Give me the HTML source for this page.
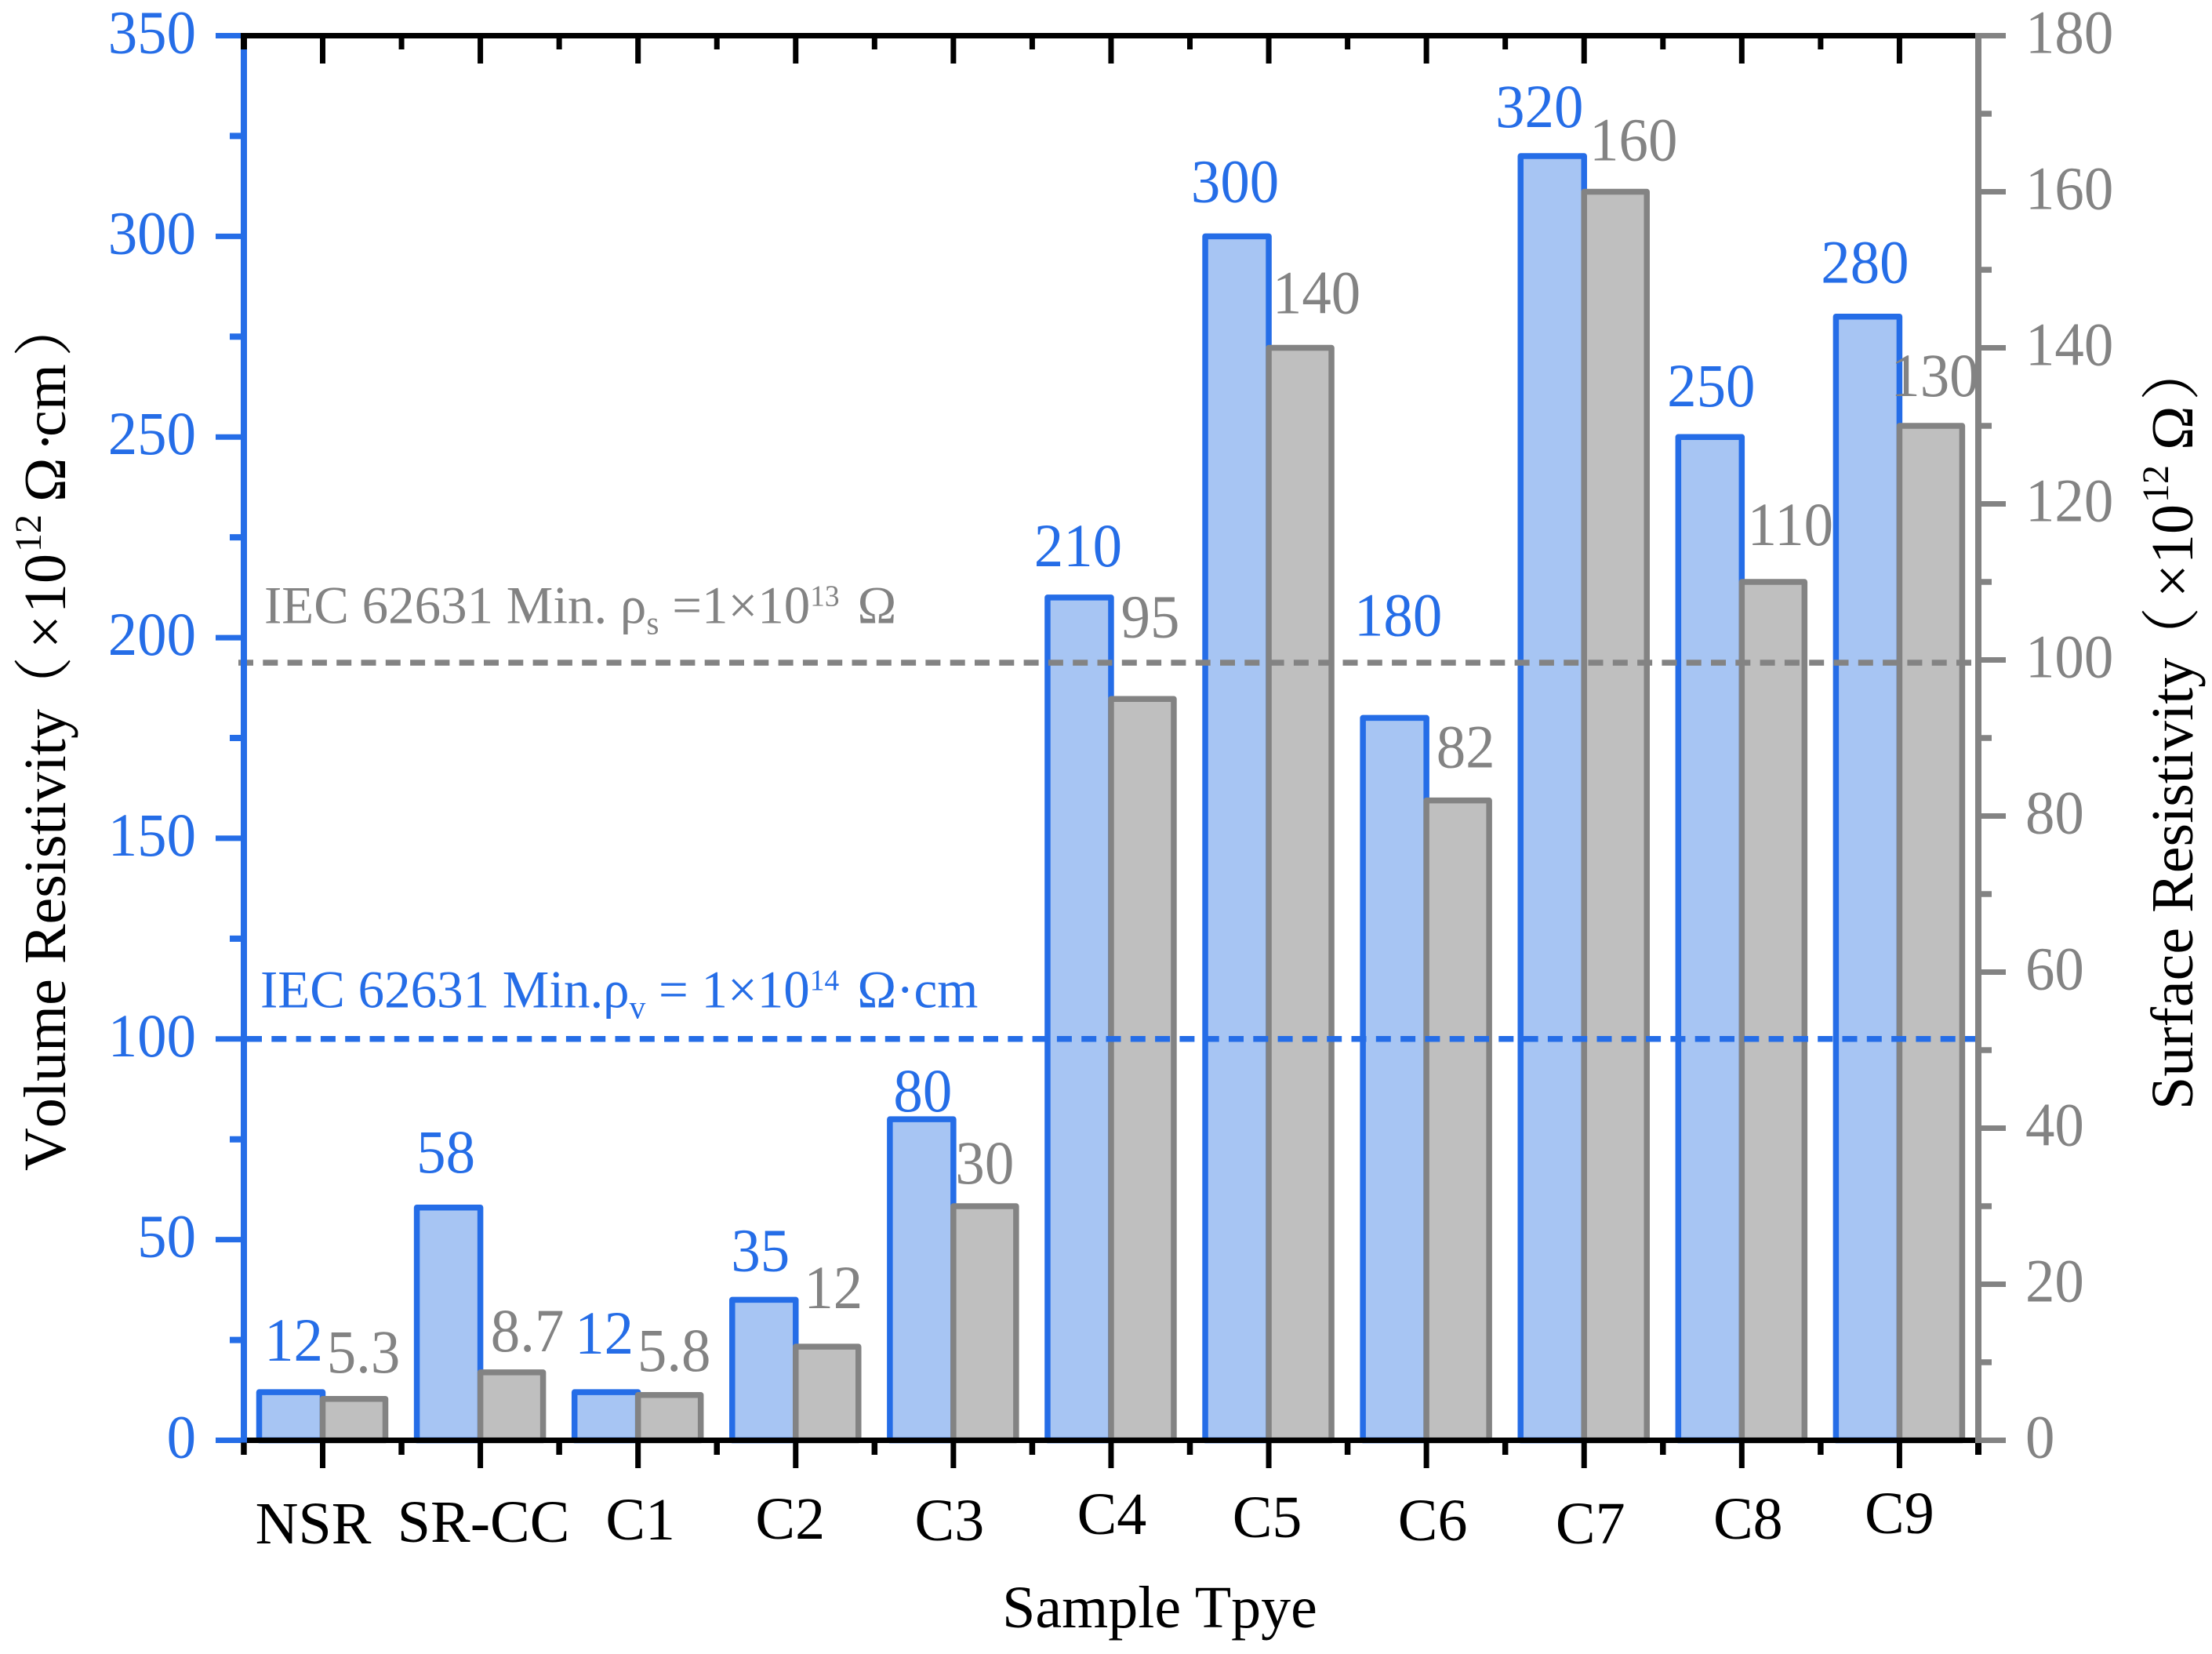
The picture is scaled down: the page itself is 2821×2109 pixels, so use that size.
<!DOCTYPE html>
<html lang="en">
<head>
<meta charset="utf-8">
<title>Volume and Surface Resistivity by Sample Type</title>
<style>
html,body{margin:0;padding:0;background:#fff;}
svg{display:block;position:absolute;left:0;top:0;}
text{font-family:"Liberation Serif","Noto Serif CJK SC",serif;}
.nokern{font-kerning:none;}
</style>
</head>
<body>
<svg id="chart" xmlns="http://www.w3.org/2000/svg" width="2821" height="2109" viewBox="0 0 2821 2109">
<rect x="0" y="0" width="2821" height="2109" fill="#ffffff"/>
<g id="bars"></g>
<g id="lines"></g>
<g id="values"></g>
<g id="axes"></g>
<text transform="translate(337,794.5) scale(0.985,1)" font-size="68" fill="#838383">IEC 62631 Min. ρ<tspan font-size="42" dy="14">s</tspan><tspan dy="-14"> =1×10</tspan><tspan font-size="38" dy="-22">13</tspan><tspan x="768" dy="22">Ω</tspan></text>
<text transform="translate(332,1284.6) scale(0.985,1)" font-size="68" fill="#256DE7">IEC 62631 Min.ρ<tspan font-size="42" dy="14">v</tspan><tspan dy="-14"> = 1×10</tspan><tspan font-size="38" dy="-22">14</tspan><tspan x="773" dy="22">Ω·cm</tspan></text>
<text class="nokern" transform="translate(83,1493) rotate(-90)" font-size="76" fill="#000">Volume Resistivity<tspan x="580">（</tspan><tspan x="666">×</tspan><tspan x="711">10</tspan><tspan x="789" font-size="48" dy="-31">12</tspan><tspan x="853" dy="31">Ω</tspan><tspan x="917">·</tspan><tspan x="936">cm</tspan><tspan x="1038">）</tspan></text>
<text class="nokern" transform="translate(2796,1415) rotate(-90)" font-size="76" fill="#000">Surface Resistivity<tspan x="565">（</tspan><tspan x="653">×</tspan><tspan x="696">10</tspan><tspan x="774" font-size="48" dy="-31">12</tspan><tspan x="841" dy="31">Ω</tspan><tspan x="904">）</tspan></text>
<text x="1479" y="2075" font-size="76" text-anchor="middle" fill="#000">Sample Tpye</text>
</svg>
<script>
// ---- data ----
const categories = ["NSR","SR-CC","C1","C2","C3","C4","C5","C6","C7","C8","C9"];
const volumeResistivity = [12,58,12,35,80,210,300,180,320,250,280];
const surfaceResistivity = [5.3,8.7,5.8,12,30,95,140,82,160,110,130];
const leftTicks = [0,50,100,150,200,250,300,350];
const rightTicks = [0,20,40,60,80,100,120,140,160,180];
const volumeThreshold = [100];
const surfaceThreshold = [100];

// ---- hand-placement nudges of labels relative to their bar (layout, not data) ----
const volLabelDx = [-37,-44,-43,-45,-39,-42,-43,-36,-57,-39,-44];
const volLabelDy = [-40,-44.5,-49,-37,-10,-40,-44,-105,-37,-39,-43];
const surfLabelDx = [52,60,46,48,40,50,61,50,63,62,45];
const surfLabelDy = [-34,-27,-31,-49,-29,-79,-44,-42,-40,-47,-38];
const catLabelDx = [-12,4,3,-7,-5,1,-2,8,8,8,0];
const catLabelBase = [1968,1966,1963,1962,1964,1956,1960,1964,1968,1962,1955];

// ---- geometry ----
const BLUE = "#256DE7", GRAY = "#838383", FBLUE = "#A7C5F3", FGRAY = "#BFBFBF";
const plot = {l:311, r:2523, t:45.5, b:1836.5};
const yLeft = v => plot.b - v / 350 * (plot.b - plot.t);
const yRight = v => plot.b - v / 180 * (plot.b - plot.t);
const xCat = i => 411.5 + i * (plot.r - plot.l) / categories.length;
const NS = "http://www.w3.org/2000/svg";
function mk(parent, tag, attrs, txt){
  const e = document.createElementNS(NS, tag);
  for (const k in attrs) e.setAttribute(k, attrs[k]);
  if (txt !== undefined) e.textContent = txt;
  parent.appendChild(e);
  return e;
}
const gBars = document.getElementById("bars");
const gLines = document.getElementById("lines");
const gVals = document.getElementById("values");
const gAxes = document.getElementById("axes");
const SX = 0.96;

// bars
categories.forEach((c, i) => {
  const cx = xCat(i);
  const yb = yLeft(volumeResistivity[i]);
  const b = mk(gBars, "rect", {x:cx-81, y:yb, width:81, height:plot.b-yb, fill:FBLUE, stroke:BLUE, "stroke-width":7.5, "stroke-linejoin":"round"});
  
  
});
categories.forEach((c, i) => {
  const cx = xCat(i);
  const ys = yRight(surfaceResistivity[i]);
  const b = mk(gBars, "rect", {x:cx, y:ys, width:80, height:plot.b-ys, fill:FGRAY, stroke:GRAY, "stroke-width":7.5, "stroke-linejoin":"round"});
  
  
});

// threshold lines
const lineS = mk(gLines, "line", {x1:304, x2:2516, y1:yRight(surfaceThreshold[0])+3.5, y2:yRight(surfaceThreshold[0])+3.5, stroke:GRAY, "stroke-width":7.5, "stroke-dasharray":"19 12.3"});


const lineV = mk(gLines, "line", {x1:315, x2:2525, y1:yLeft(volumeThreshold[0]), y2:yLeft(volumeThreshold[0]), stroke:BLUE, "stroke-width":7.5, "stroke-dasharray":"19 12.3"});



// value labels
categories.forEach((c, i) => {
  const t1 = mk(gVals, "text", {transform:`translate(${xCat(i)+volLabelDx[i]},${yLeft(volumeResistivity[i])+volLabelDy[i]}) scale(${SX},1)`, "font-size":78, "text-anchor":"middle", fill:BLUE}, String(volumeResistivity[i]));
  
  
  const t2 = mk(gVals, "text", {transform:`translate(${xCat(i)+surfLabelDx[i]},${yRight(surfaceResistivity[i])+surfLabelDy[i]}) scale(${SX},1)`, "font-size":78, "text-anchor":"middle", fill:GRAY}, String(surfaceResistivity[i]));
  
  
});

// left axis
const leftLine = mk(gAxes, "line", {x1:plot.l, x2:plot.l, y1:plot.t, y2:plot.b+3.5, stroke:BLUE, "stroke-width":8});


for (let k = 0; k < leftTicks.length; k++) {
  const v = leftTicks[k], y = yLeft(v);
  const t = mk(gAxes, "line", {x1:275, x2:plot.l, y1:y, y2:y, stroke:BLUE, "stroke-width":7});
  
  
  const l = mk(gAxes, "text", {transform:`translate(250,${y+22}) scale(${SX},1)`, "font-size":78, "text-anchor":"end", fill:BLUE}, String(v));
  
  
  if (k < leftTicks.length - 1) {
    const ym = yLeft((v + leftTicks[k+1]) / 2);
    const m = mk(gAxes, "line", {x1:293, x2:plot.l, y1:ym, y2:ym, stroke:BLUE, "stroke-width":8});
    
    
  }
}

// top & bottom axes (black), with ticks
const topLine = mk(gAxes, "line", {x1:307, x2:plot.r-4, y1:plot.t, y2:plot.t, stroke:"#000", "stroke-width":7});


const botLine = mk(gAxes, "line", {x1:315, x2:plot.r-4, y1:plot.b, y2:plot.b, stroke:"#000", "stroke-width":7});


const cornerTick = mk(gAxes, "line", {x1:plot.l, x2:plot.l, y1:plot.t, y2:63, stroke:"#000", "stroke-width":8});


categories.forEach((c, i) => {
  const x = xCat(i);
  const major = mk(gAxes, "line", {x1:x, x2:x, y1:plot.b, y2:1872, stroke:"#000", "stroke-width":7});
  
  
  const topMajor = mk(gAxes, "line", {x1:x, x2:x, y1:plot.t, y2:81, stroke:"#000", "stroke-width":7});
  
  
  const step = (plot.r - plot.l) / categories.length;
  const minor = mk(gAxes, "line", {x1:x-step/2, x2:x-step/2, y1:plot.b+3, y2:1855, stroke:"#000", "stroke-width":7.5});
  
  
  if (i > 0) {
    const topMinor = mk(gAxes, "line", {x1:x-step/2, x2:x-step/2, y1:plot.t, y2:63, stroke:"#000", "stroke-width":7});
    
    
  }
  const label = mk(gAxes, "text", {x:x+catLabelDx[i], y:catLabelBase[i], "font-size":76, "text-anchor":"middle", fill:"#000"}, c);
  
  
});
const endTick = mk(gAxes, "line", {x1:plot.r, x2:plot.r, y1:plot.b+3, y2:1855, stroke:"#000", "stroke-width":8});



// right axis
const rightLine = mk(gAxes, "line", {x1:plot.r, x2:plot.r, y1:plot.t-3.5, y2:plot.b+3.5, stroke:GRAY, "stroke-width":8});


for (let k = 0; k < rightTicks.length; k++) {
  const v = rightTicks[k], y = yRight(v);
  const t = mk(gAxes, "line", {x1:plot.r, x2:2558, y1:y, y2:y, stroke:GRAY, "stroke-width":7});
  
  
  const l = mk(gAxes, "text", {transform:`translate(2583,${y+22}) scale(${SX},1)`, "font-size":78, "text-anchor":"start", fill:GRAY}, String(v));
  
  
  if (k < rightTicks.length - 1) {
    const ym = yRight((v + rightTicks[k+1]) / 2);
    const m = mk(gAxes, "line", {x1:plot.r, x2:2540, y1:ym, y2:ym, stroke:GRAY, "stroke-width":7.5});
    
    
  }
}
</script>
</body>
</html>
